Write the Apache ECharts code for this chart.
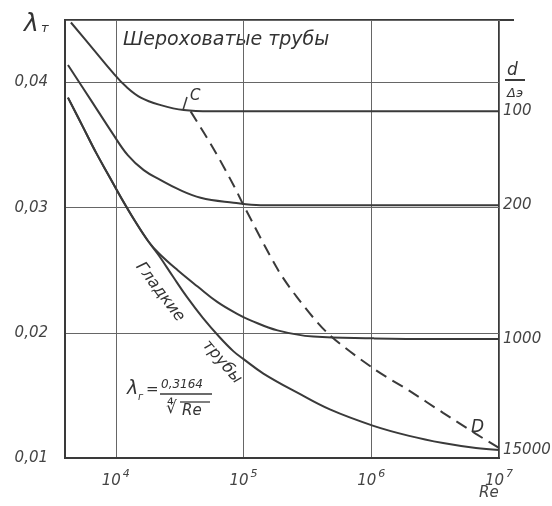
<!DOCTYPE html>
<html><head><meta charset="utf-8">
<script src="https://cdn.jsdelivr.net/npm/echarts@6/dist/echarts.min.js"></script>
<style>html,body{margin:0;padding:0;background:#fff}#c{width:552px;height:506px}</style>
</head><body><div id="c"></div>
<script>
// Re values and friction factor values
const re100 = [4450, 6500, 9480, 11970, 15670, 22480, 34000, 55200, 200000, 1e7];
const lam100 = [0.0448, 0.0428, 0.0408, 0.0397, 0.0388, 0.0382, 0.0378, 0.0377, 0.0377, 0.0377];

const re200 = [4220, 6380, 9480, 12400, 16540, 22480, 30500, 46100, 83500, 136000, 500000, 1e7];
const lam200 = [0.0414, 0.0386, 0.0359, 0.0342, 0.0330, 0.0322, 0.0315, 0.0308, 0.0304, 0.0302, 0.0302, 0.0302];

const re1000 = [4220, 5500, 7000, 9000, 11000, 14000, 18000, 22000, 30500, 43700, 62600, 89800, 113500, 184500, 352000, 1040000, 3000000, 1e7];
const lam1000 = [0.0388, 0.0365, 0.0344, 0.0324, 0.0308, 0.0290, 0.0273, 0.0263, 0.0250, 0.0237, 0.02245, 0.0215, 0.0210, 0.0202, 0.0197, 0.01956, 0.0195, 0.0195];

const reSmooth = [4220, 5500, 7000, 9000, 11000, 14000, 18000, 22000, 28000, 36000, 48000, 65000, 83500, 100000, 143000, 264000, 479000, 1040000, 1980000, 3650000, 6600000, 1e7];
const lamSmooth = [0.0388, 0.0365, 0.0344, 0.0324, 0.0308, 0.0290, 0.0273, 0.0261, 0.0245, 0.02287, 0.0212, 0.01965, 0.01852, 0.0179, 0.01675, 0.01522, 0.01386, 0.01257, 0.01177, 0.0112, 0.0108, 0.01064];

const reDash = [38500, 58300, 83500, 100000, 184500, 260000, 453000, 1040000, 1980000, 3650000, 6600000, 1e7];
const lamDash = [0.0377, 0.0347, 0.0318, 0.0302, 0.0251, 0.0229, 0.0200, 0.01715, 0.01538, 0.01361, 0.01193, 0.0108];

const rightLabels = ['100', '200', '1000', '15000'];
const yTickValues = [0.01, 0.02, 0.03, 0.04];
const xTickExponents = [4, 5, 6, 7];

const INK = '#3a3a3a';
const FONT = 'DejaVu Sans';
const zip = (a, b) => a.map((v, i) => [v, b[i]]);

const chart = echarts.init(document.getElementById('c'), null, {renderer: 'canvas'});

function curve(name, re, lam, label) {
  return {
    type: 'line', name: name, data: zip(re, lam), showSymbol: false, symbol: 'none',
    smooth: 0.4,
    lineStyle: {color: INK, width: 2},
    endLabel: label ? {show: true, formatter: label, distance: 4, color: '#444',
      fontFamily: FONT, fontStyle: 'italic', fontSize: 15} : {show: false},
    z: 3
  };
}

const option = {
  animation: false,
  backgroundColor: '#fff',
  grid: {left: 65, right: 53, top: 20, bottom: 48, show: true, borderColor: INK, borderWidth: 2, backgroundColor: 'transparent'},
  xAxis: {
    type: 'log', logBase: 10, min: 4000, max: 1e7,
    axisLine: {show: true, lineStyle: {color: INK, width: 2}},
    axisTick: {show: false},
    splitLine: {show: true, lineStyle: {color: '#666', width: 1}},
    axisLabel: {
      margin: 8, color: '#444',
      formatter: function (v) {
        const e = Math.round(Math.log10(v));
        if (Math.abs(v - Math.pow(10, e)) / v > 0.01 || xTickExponents.indexOf(e) < 0) return '';
        return '{b|10}{s|' + e + '}';
      },
      rich: {
        b: {fontFamily: FONT, fontStyle: 'italic', fontSize: 15, color: '#444', padding: [8, 0, 0, 0]},
        s: {fontFamily: FONT, fontStyle: 'italic', fontSize: 11, color: '#444', padding: [0, 0, 6, 2]}
      }
    }
  },
  yAxis: {
    type: 'value', min: 0.01, max: 0.045, interval: 0.01,
    axisLine: {show: true, lineStyle: {color: INK, width: 2}},
    axisTick: {show: false},
    splitLine: {show: true, lineStyle: {color: '#666', width: 1}},
    axisLabel: {
      margin: 17, color: '#444', fontFamily: FONT, fontStyle: 'italic', fontSize: 15,
      formatter: function (v) {
        const hit = yTickValues.find(t => Math.abs(t - v) < 1e-6);
        return hit === undefined ? '' : hit.toFixed(2).replace('.', ',');
      }
    }
  },
  series: [
    curve('100', re100, lam100, rightLabels[0]),
    curve('200', re200, lam200, rightLabels[1]),
    curve('1000', re1000, lam1000, rightLabels[2]),
    curve('15000', reSmooth, lamSmooth, rightLabels[3]),
    {
      type: 'line', name: 'CD', data: zip(reDash, lamDash), showSymbol: false, symbol: 'none',
      smooth: 0.3,
      lineStyle: {color: INK, width: 2, type: [12, 7]}, z: 3
    }
  ],
  graphic: [
    {type: 'text', style: {text: 'λ', x: 24, y: 12, font: 'italic 25px ' + FONT, fill: '#333'}},
    {type: 'text', style: {text: 'т', x: 41, y: 22, font: 'italic 13px ' + FONT, fill: '#333'}},
    {type: 'text', style: {text: 'Шероховатые трубы', x: 123, y: 31, font: 'italic 19px ' + FONT, fill: '#333'}},
    {type: 'text', style: {text: 'C', x: 190, y: 89, font: 'italic 15px ' + FONT, fill: '#333'}},
    {type: 'line', shape: {x1: 187, y1: 97, x2: 183, y2: 110}, style: {stroke: INK, lineWidth: 1.5}},
    {type: 'text', style: {text: 'D', x: 471, y: 419, font: 'italic 17px ' + FONT, fill: '#333'}},
    {type: 'text', style: {text: 'd', x: 507, y: 62, font: 'italic 17px ' + FONT, fill: '#333'}},
    {type: 'line', shape: {x1: 505, y1: 80, x2: 525, y2: 80}, style: {stroke: INK, lineWidth: 2}},
    {type: 'text', style: {text: 'Δэ', x: 507, y: 87, font: 'italic 13px ' + FONT, fill: '#333'}},
    {type: 'line', shape: {x1: 499, y1: 20, x2: 514, y2: 20}, style: {stroke: INK, lineWidth: 2}},
    {type: 'text', style: {text: 'Re', x: 479, y: 486, font: 'italic 15px ' + FONT, fill: '#444'}},
    {type: 'text', x: 160, y: 292, rotation: -0.92,
      style: {text: 'Гладкие', x: 0, y: 0, align: 'center', verticalAlign: 'middle', font: 'italic 16px ' + FONT, fill: '#333'}},
    {type: 'text', x: 222, y: 362, rotation: -0.86,
      style: {text: 'трубы', x: 0, y: 0, align: 'center', verticalAlign: 'middle', font: 'italic 16px ' + FONT, fill: '#333'}},
    {type: 'text', style: {text: 'λ', x: 127, y: 380, font: 'italic 19px ' + FONT, fill: '#333'}},
    {type: 'text', style: {text: 'г', x: 138, y: 392, font: 'italic 10px ' + FONT, fill: '#333'}},
    {type: 'text', style: {text: '=', x: 146, y: 383, font: '15px ' + FONT, fill: '#333'}},
    {type: 'text', style: {text: '0,3164', x: 161, y: 379, font: 'italic 12px ' + FONT, fill: '#333'}},
    {type: 'line', shape: {x1: 160, y1: 394, x2: 212, y2: 394}, style: {stroke: INK, lineWidth: 1.5}},
    {type: 'text', style: {text: '∜', x: 166, y: 400, font: '17px ' + FONT, fill: '#333'}},
    {type: 'line', shape: {x1: 180, y1: 402, x2: 210, y2: 402}, style: {stroke: INK, lineWidth: 1.3}},
    {type: 'text', style: {text: 'Re', x: 182, y: 404, font: 'italic 15px ' + FONT, fill: '#333'}}
  ]
};
chart.setOption(option);
</script>
</body></html>
